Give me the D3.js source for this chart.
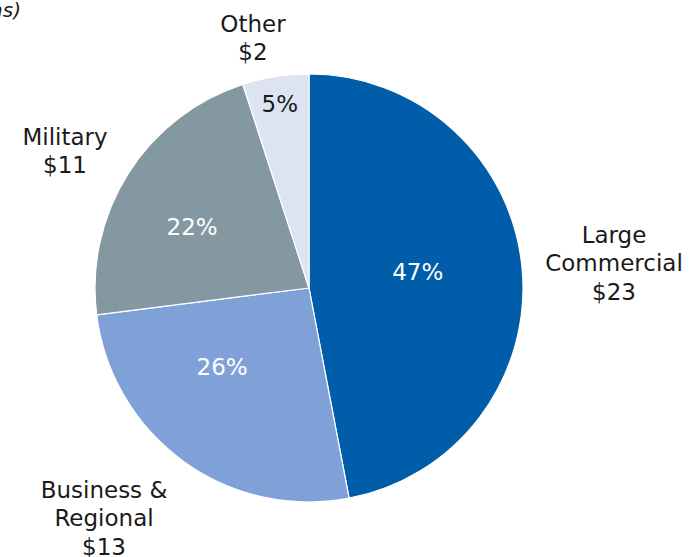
<!DOCTYPE html>
<html>
<head>
<meta charset="utf-8">
<script src="https://cdn.jsdelivr.net/npm/d3@7"></script>
<style>
  html, body { margin: 0; padding: 0; background: #ffffff; }
  svg { display: block; }
  text { font-family: "DejaVu Sans", Verdana, sans-serif; }
</style>
</head>
<body>
<svg id="chart" width="695" height="557"></svg>
<script>
// Revenue by segment ($ in billions)
const segments = ["Large Commercial", "Business & Regional", "Military", "Other"];
const nameLines = [["Large", "Commercial"], ["Business &", "Regional"], ["Military"], ["Other"]];
const dollars = [23, 13, 11, 2];
const shares = [47, 26, 22, 5];
const colors = ["#005DAA", "#7FA1D7", "#8498A2", "#DDE3F1"];
const shareTextColors = ["#ffffff", "#ffffff", "#ffffff", "#1a1a1a"];

const W = 695, H = 557;
const cx = 309, cy = 288, R = 214;
const fontSize = 23, lineH = 28.3;

// placement of the percentage labels: radius and angular nudge (degrees) from the slice middle
const shareLabelLayout = [
  { r: 110, nudge: -3.2 },
  { r: 117, nudge: 12 },
  { r: 132, nudge: -4.7 },
  { r: 187, nudge: 0 }
];
// placement of the outside name labels, relative to the pie centre (first baseline)
const nameLabelLayout = [
  { dx: 305, dy: -45 },
  { dx: -205, dy: 210 },
  { dx: -244, dy: -143 },
  { dx: -56, dy: -256 }
];

const svg = d3.select("#chart");

svg.append("text")
  .attr("x", 21).attr("y", 17)
  .attr("text-anchor", "end")
  .attr("font-size", 20)
  .attr("font-style", "italic")
  .attr("fill", "#1a1a1a")
  .text("($ in billions)");

const pie = d3.pie().sort(null).value(d => d)
  .startAngle(0).endAngle(2 * Math.PI);
const arcs = pie(shares);
const arc = d3.arc().innerRadius(0).outerRadius(R);

const g = svg.append("g").attr("transform", `translate(${cx},${cy})`);

g.selectAll("path.slice")
  .data(arcs)
  .join("path")
  .attr("class", "slice")
  .attr("d", arc)
  .attr("fill", (d, i) => colors[i])
  .attr("stroke", "#ffffff")
  .attr("stroke-width", 1.2)
  .attr("stroke-linejoin", "round");

// percentage labels inside the slices
g.selectAll("text.share")
  .data(arcs)
  .join("text")
  .attr("class", "share")
  .each(function (d, i) {
    const L = shareLabelLayout[i];
    const a = (d.startAngle + d.endAngle) / 2 + L.nudge * Math.PI / 180;
    const [x, y] = d3.pointRadial(a, L.r);
    d3.select(this)
      .attr("x", x)
      .attr("y", y)
      .attr("dy", "0.36em");
  })
  .attr("text-anchor", "middle")
  .attr("font-size", fontSize)
  .attr("fill", (d, i) => shareTextColors[i])
  .text((d, i) => shares[i] + "%");

// segment names with dollar amounts outside the pie
segments.forEach((name, i) => {
  const L = nameLabelLayout[i];
  const lines = nameLines[i].concat(["$" + dollars[i]]);
  const t = g.append("text")
    .attr("text-anchor", "middle")
    .attr("font-size", fontSize)
    .attr("fill", "#1a1a1a");
  lines.forEach((s, k) => {
    t.append("tspan")
      .attr("x", L.dx)
      .attr("y", L.dy + k * lineH)
      .text(s);
  });
});
</script>
</body>
</html>
